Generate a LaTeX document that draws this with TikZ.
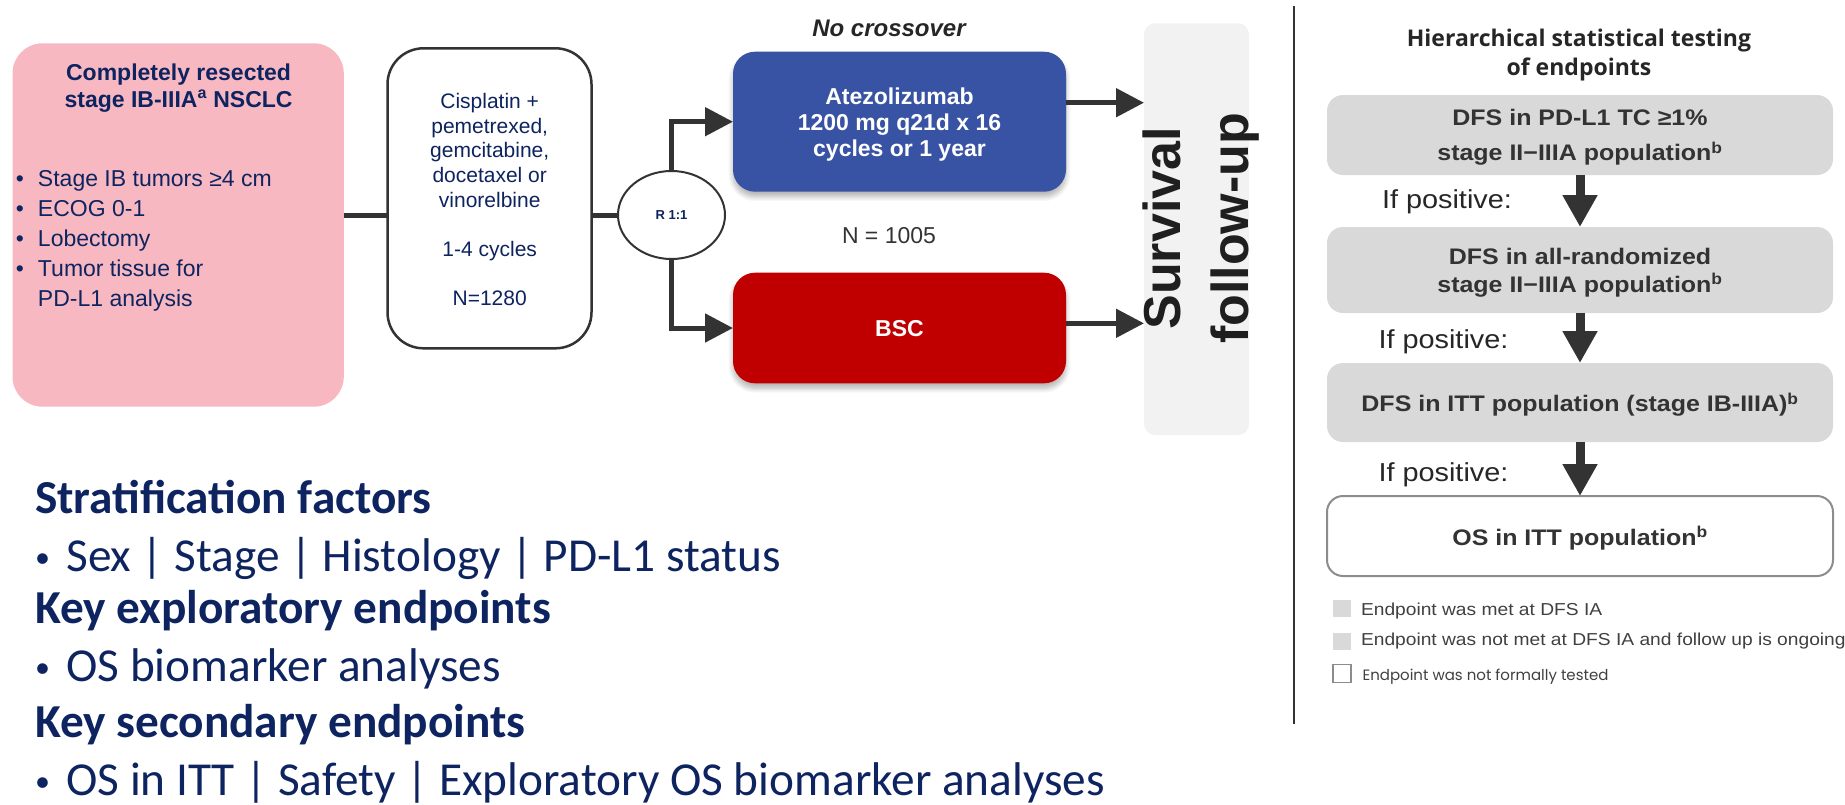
\documentclass[tikz,border=0pt]{standalone}
\usepackage{fontspec}
\setmainfont{Liberation Sans}
\newfontfamily\calibrisub{Carlito}
\newfontfamily\headsans{Open Sans}
\newfontfamily\geosans{Poppins}
\newfontfamily\widesans[FakeStretch=1.11]{Liberation Sans}
\usetikzlibrary{arrows.meta,shapes.geometric,shadows.blur}

\definecolor{pinkfill}{RGB}{248,184,193}
\definecolor{navy}{RGB}{14,36,96}
\definecolor{trialblue}{RGB}{57,83,164}
\definecolor{trialred}{RGB}{192,0,0}
\definecolor{linkgray}{RGB}{51,51,51}
\definecolor{panelgray}{RGB}{242,242,242}
\definecolor{epgray}{RGB}{217,217,217}
\definecolor{eptext}{RGB}{51,51,51}
\definecolor{legendtext}{RGB}{64,64,64}
\definecolor{outlinegray}{RGB}{140,140,140}

\newcommand\setpx[2]{\fontsize{#1}{#2}\selectfont}
\newcommand\txtstack[2]{\begin{tabular}[t]{@{}#1@{}}#2\end{tabular}}
\newcommand\bul[1]{\makebox[#1pt][l]{•}}
% small raised bullet for the large list lines
\newcommand\bigbul{\makebox[31.3pt][l]{\raisebox{4pt}{\setpx{30}{30}•}}}

\begin{document}
\begin{tikzpicture}[x=1pt,y=-1pt,
  every node/.style={inner sep=0pt, outer sep=0pt},
  link/.style={draw=linkgray, line width=5pt},
  linkarrow/.style={link, -{Triangle[length=28pt,width=28pt]}},
  steparrow/.style={draw=linkgray, line width=9pt, -{Triangle[length=32pt,width=33pt]}},
  armbox/.style={rectangle, rounded corners=22pt, minimum width=333pt, text=white,
    align=center, font=\setpx{23}{26}\bfseries, text depth=0pt,
    blur shadow={shadow xshift=0pt, shadow yshift=-5pt, shadow blur radius=5pt,
      shadow blur steps=8, shadow opacity=30}},
  epbox/.style={rectangle, rounded corners=16pt, fill=epgray, minimum width=506pt,
    text=eptext, align=center, text depth=0pt},
  ifpos/.style={anchor=base west, font=\widesans\setpx{26}{30}, text=black!85},
  legsq/.style={rectangle, minimum width=18.5pt, minimum height=17pt, fill=epgray},
  legtxt/.style={anchor=base west, font=\widesans\setpx{17.3}{20}, text=legendtext},
  navyhead/.style={anchor=base west, text=navy, font=\calibrisub\bfseries\setpx{47.3}{52}},
  navyitem/.style={anchor=base west, text=navy, font=\calibrisub\setpx{47.3}{52}},
]
\useasboundingbox (0,0) rectangle (1845,804);

% ---------------- study design ----------------
\node[fill=pinkfill, rounded corners=30pt, minimum width=331.3pt, minimum height=363.4pt] (pink) at (178.15,225) {};
\node[anchor=base, text=navy, font=\setpx{23}{27.3}\bfseries] (pinkhead) at (178.6,80)
  {\txtstack{c}{Completely resected\\stage IB-IIIA\textsuperscript{a} NSCLC}};
\node[anchor=base west, text=navy, font=\setpx{23}{30.2}] (pinklist) at (16,186)
  {\txtstack{l}{\bul{22}Stage IB tumors ≥4 cm\\ \bul{22}ECOG 0-1\\ \bul{22}Lobectomy\\
   \bul{22}Tumor tissue for\\ \hspace*{22pt}PD-L1 analysis}};

\node[draw=linkgray, line width=2.5pt, fill=white, rounded corners=36pt,
      minimum width=204pt, minimum height=300pt] (chemo) at (489.5,198.3) {};
\node[anchor=base, text=navy, font=\setpx{21}{24.7}] (chemotxt) at (489.7,108.3)
  {\txtstack{c}{Cisplatin +\\pemetrexed,\\gemcitabine,\\docetaxel or\\vinorelbine\\ \\1-4 cycles\\ \\N=1280}};

\node[ellipse, draw=linkgray, line width=2pt, fill=white, minimum width=107pt, minimum height=88pt,
      text=navy, font=\setpx{13}{15}\bfseries] (rand) at (671.5,215) {R 1:1};

\node[armbox, fill=trialblue, minimum height=140pt] (atezo) at (899.5,121.7)
  {Atezolizumab\\1200 mg q21d x 16\\cycles or 1 year};
\node[armbox, fill=trialred, minimum height=110.6pt] (bsc) at (899.5,328) {BSC};

\node[anchor=base, font=\setpx{24}{28}\bfseries\itshape, text=black!85] (nocross) at (889,36.7) {No crossover};
\node[anchor=base, font=\setpx{23}{26}, text=linkgray] (ntotal) at (889,243.3) {N = 1005};

\node[rectangle, fill=panelgray, rounded corners=11pt, minimum width=105pt, minimum height=411.7pt] (surv) at (1196.5,229.15) {};
\node[rotate=90, align=center, font=\setpx{52}{67.5}\bfseries, text=black!88] (survtxt) at (1201.25,228.3) {Survival\\follow-up};

\draw[link] (pink.east |- rand.center) -- (chemo.west |- rand.center);
\draw[link] (chemo.east |- rand.center) -- (rand.west);
\draw[linkarrow] (rand.north) |- (atezo.west);
\draw[linkarrow] (rand.south) |- (bsc.west);
\coordinate (atezoout) at ([yshift=19pt]atezo.east);
\coordinate (bscout) at ([yshift=4.7pt]bsc.east);
\draw[linkarrow] (atezoout) -- (atezoout -| surv.west);
\draw[linkarrow] (bscout) -- (bscout -| surv.west);

% ---------------- divider ----------------
\coordinate (divtop) at (1293.5,6);
\coordinate (divbot) at (1293.5,724);
\draw[draw=linkgray, line width=2pt] (divtop) -- (divbot);

% ---------------- hierarchical testing ----------------
\node[anchor=base, font=\headsans\bfseries\setpx{23}{28.5}, text=black!85] (hiertitle) at (1579,46.7)
  {\txtstack{c}{Hierarchical statistical testing\\of endpoints}};

\node[epbox, minimum height=80pt, font=\widesans\bfseries\setpx{22.5}{35}] (ep1) at (1580,135)
  {DFS in PD-L1 TC ≥1\%\\stage II−IIIA population\textsuperscript{b}};
\node[epbox, minimum height=86pt, font=\widesans\bfseries\setpx{22.5}{28.3}] (ep2) at (1580,270)
  {DFS in all-randomized\\stage II−IIIA population\textsuperscript{b}};
\node[epbox, minimum height=79pt, font=\widesans\bfseries\setpx{22.5}{28}] (ep3) at (1580,402.5)
  {DFS in ITT population (stage IB-IIIA)\textsuperscript{b}};
\node[epbox, minimum height=80pt, fill=white, draw=outlinegray, line width=2pt,
      font=\widesans\bfseries\setpx{22.5}{28}] (ep4) at (1580,536)
  {OS in ITT population\textsuperscript{b}};

\draw[steparrow] (ep1.south) -- (ep2.north);
\draw[steparrow] (ep2.south) -- (ep3.north);
\draw[steparrow] (ep3.south) -- (ep4.north);

\node[ifpos] (ifpos1) at (1382,208.3) {If positive:};
\node[ifpos] (ifpos2) at (1378.5,348.3) {If positive:};
\node[ifpos] (ifpos3) at (1378.5,481.7) {If positive:};

\node[legsq] (lg1) at (1341.75,608.5) {};
\node[legsq] (lg2) at (1341.75,641) {};
\node[rectangle, draw=outlinegray, line width=1.6pt, fill=white, minimum size=18pt] (lg3) at (1342,673.5) {};
\node[legtxt] (lt1) at (1361,615) {Endpoint was met at DFS IA};
\node[legtxt] (lt2) at (1361,645.7) {Endpoint was not met at DFS IA and follow up is ongoing};
\node[anchor=base west, font=\geosans\setpx{15}{18}, text=legendtext] (lt3) at (1362.6,680) {Endpoint was not formally tested};

% ---------------- factors and endpoints ----------------
\node[navyhead] (strat) at (35,513) {Stratification factors};
\node[navyitem] (stratlist) at (35,571.7) {\bigbul Sex | Stage | Histology | PD-L1 status};
\node[navyhead] (explor) at (35,623) {Key exploratory endpoints};
\node[navyitem] (explorlist) at (35,681.7) {\bigbul OS biomarker analyses};
\node[navyhead] (second) at (35,737) {Key secondary endpoints};
\node[navyitem] (secondlist) at (35,795.5) {\bigbul OS in ITT | Safety | Exploratory OS biomarker analyses};
\end{tikzpicture}
\end{document}
